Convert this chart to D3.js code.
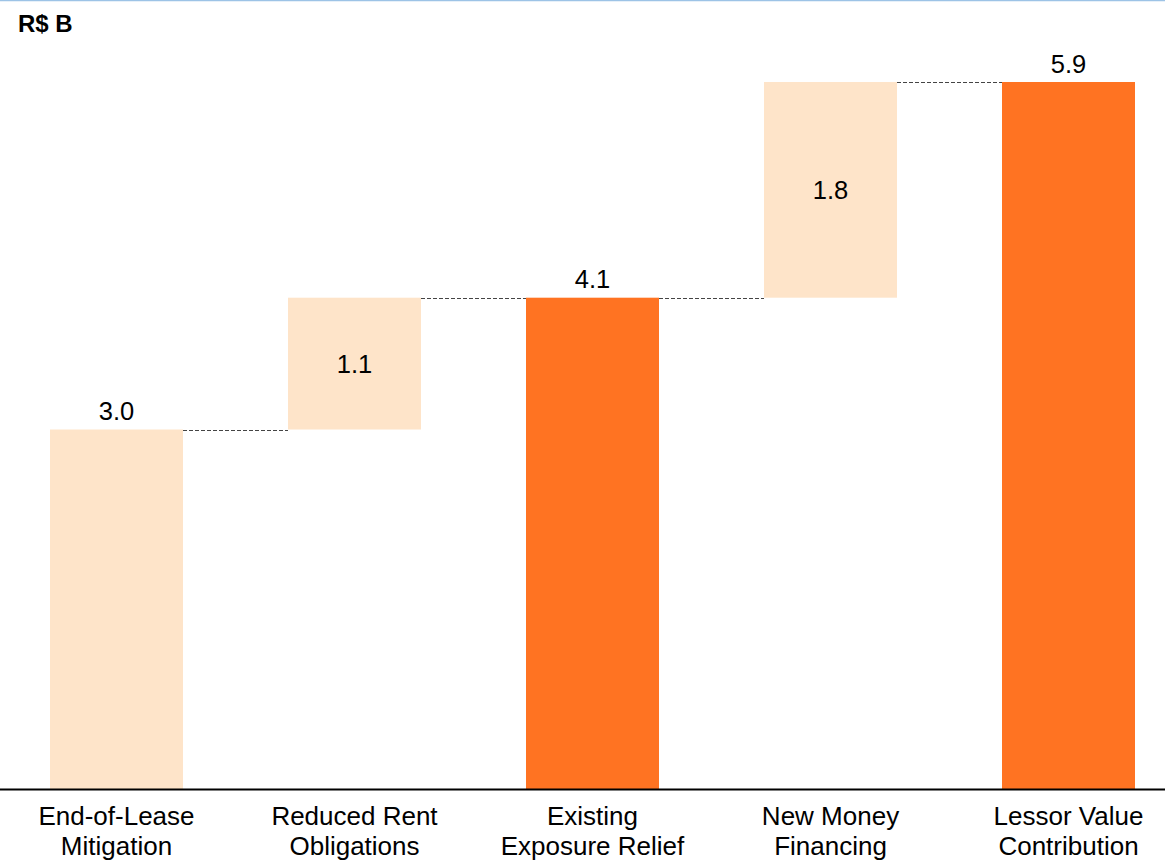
<!DOCTYPE html>
<html><head><meta charset="utf-8">
<script src="https://cdn.jsdelivr.net/npm/d3@7"></script>
<style>html,body{margin:0;padding:0;background:#fff;}svg{display:block;font-family:"Liberation Sans",Arial,sans-serif;}</style>
</head><body><svg id="c" width="1165" height="860"></svg>
<script>
const categories = [["End-of-Lease","Mitigation"],["Reduced Rent","Obligations"],["Existing","Exposure Relief"],["New Money","Financing"],["Lessor Value","Contribution"]];
const values = [3.0, 1.1, 4.1, 1.8, 5.9];
const kinds = ["delta","delta","total","delta","total"];
const labels = ["3.0","1.1","4.1","1.8","5.9"];

const svg = d3.select("#c");
const W = 1165, H = 860;
const base = 789;
const x = d3.scaleBand().domain(d3.range(values.length)).range([-2.5, 1187.5]).paddingInner(105/238).paddingOuter(105/238/2);
const y = d3.scaleLinear().domain([0, 5.9]).range([base, 82]);

svg.append("line").attr("x1",0).attr("x2",W).attr("y1",0.5).attr("y2",0.5).attr("stroke","#9dc3e6").attr("stroke-width",1.5);
svg.append("text").attr("x",18).attr("y",32).attr("font-size",24).attr("font-weight","bold").attr("fill","#000").text("R$ B");

let run = 0;
const bars = values.map((v,i)=>{
  let lo, hi;
  if (kinds[i]==="total" || i===0) { lo = 0; hi = v; run = hi; }
  else { lo = run; hi = run + v; run = hi; }
  return {i, lo, hi, kind: kinds[i], first: i===0};
});

const light = "#FEE4C9", dark = "#FF7322";
svg.selectAll("rect.bar").data(bars).enter().append("rect")
  .attr("x", d=>x(d.i)).attr("width", x.bandwidth())
  .attr("y", d=>y(d.hi)).attr("height", d=>y(d.lo)-y(d.hi))
  .attr("fill", d=>d.kind==="total"?dark:light);

for (let i=0;i<bars.length-1;i++){
  const yy = Math.round(y(bars[i].hi))+0.5;
  svg.append("line").attr("x1", x(i)+x.bandwidth()).attr("x2", x(i+1))
    .attr("y1", yy).attr("y2", yy).attr("stroke","#444").attr("stroke-width",1).attr("stroke-dasharray","4,2");
}

svg.selectAll("text.val").data(bars).enter().append("text")
  .attr("x", d=>x(d.i)+x.bandwidth()/2)
  .attr("y", d=> (d.kind==="total"||d.first) ? y(d.hi)-9.5 : (y(d.hi)+y(d.lo))/2+9)
  .attr("text-anchor","middle").attr("font-size",25.5).attr("fill","#000")
  .text((d,i)=>labels[i]);

svg.append("line").attr("x1",0).attr("x2",W).attr("y1",base+0.5).attr("y2",base+0.5).attr("stroke","#000").attr("stroke-width",2);

const g = svg.selectAll("g.cat").data(categories).enter().append("g");
g.each(function(lines,i){
  const cx = x(i)+x.bandwidth()/2;
  const t = d3.select(this).append("text").attr("text-anchor","middle").attr("font-size",26).attr("fill","#000");
  lines.forEach((l,k)=>t.append("tspan").attr("x", cx).attr("y", 825+k*30).text(l));
});
</script></body></html>
